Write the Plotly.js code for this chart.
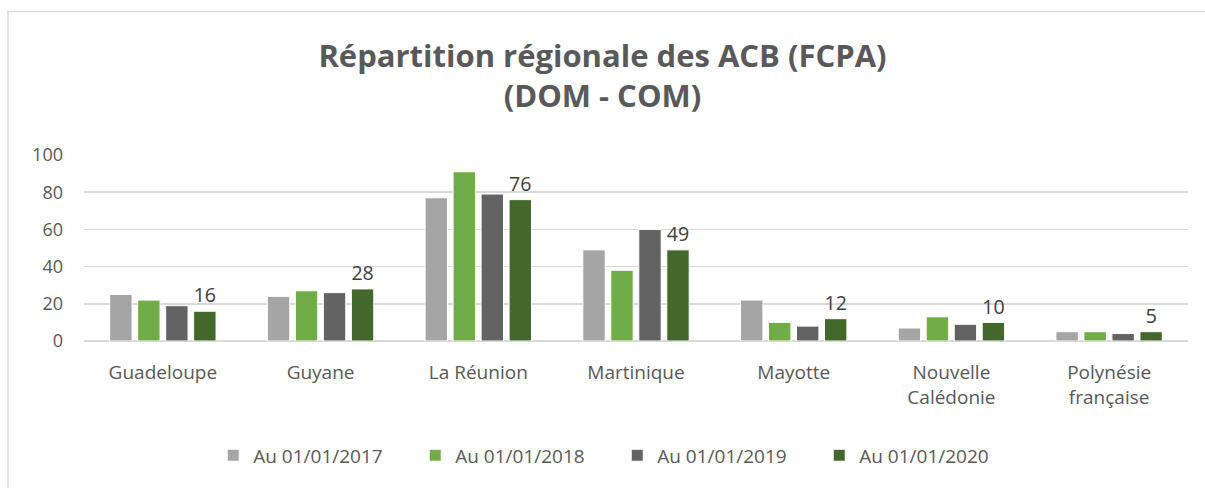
<!DOCTYPE html>
<html>
<head>
<meta charset="utf-8">
<script src="https://cdn.plot.ly/plotly-3.0.1.min.js"></script>
<style>html,body{margin:0;padding:0;background:#fff;}#chart{width:1205px;height:488px;}</style>
</head>
<body>
<div id="chart"></div>
<script>
const categories = ["Guadeloupe", "Guyane", "La Réunion", "Martinique", "Mayotte", "Nouvelle<br>Calédonie", "Polynésie<br>française"];
const seriesNames = ["Au 01/01/2017", "Au 01/01/2018", "Au 01/01/2019", "Au 01/01/2020"];
const v2017 = [25, 24, 77, 49, 22, 7, 5];
const v2018 = [22, 27, 91, 38, 10, 13, 5];
const v2019 = [19, 26, 79, 60, 8, 9, 4];
const v2020 = [16, 28, 76, 49, 12, 10, 5];
const colors = ["#A5A5A5", "#70AD47", "#636363", "#43682B"];
const values = [v2017, v2018, v2019, v2020];

const font = "Open Sans, sans-serif";
const traces = values.map((vals, i) => {
  const t = {
    type: "bar",
    name: seriesNames[i],
    x: categories,
    y: vals,
    marker: {color: colors[i], line: {color: "#ffffff", width: 1}},
    hoverinfo: "skip"
  };
  if (i === 3) {
    t.text = vals.map(String);
    t.textposition = "outside";
    t.textfont = {family: font, size: 20, color: "#404040"};
    t.cliponaxis = false;
  }
  return t;
});

const layout = {
  width: 1205, height: 488,
  paper_bgcolor: "#ffffff", plot_bgcolor: "#ffffff",
  margin: {l: 84, r: 17, t: 155, b: 146.5},
  title: {
    text: "<b>Répartition régionale des ACB (FCPA)<br>(DOM - COM)</b>",
    font: {family: font, size: 31, color: "#595959"},
    x: 0.5, xanchor: "center", y: 1 - 67/488, yanchor: "top"
  },
  barmode: "group",
  bargap: 0.29,
  bargroupgap: 0.2,
  xaxis: {
    tickfont: {family: font, size: 19, color: "#595959"},
    showgrid: false, zeroline: false, showline: false, ticks: "",
    ticklabelstandoff: 18
  },
  yaxis: {
    range: [0, 100], dtick: 20,
    tickfont: {family: font, size: 18, color: "#595959"},
    gridcolor: "#D9D9D9", gridwidth: 1.5,
    zeroline: true, zerolinecolor: "#D9D9D9", zerolinewidth: 1.5,
    showline: false, ticks: "",
    ticklabelstandoff: 20
  },
  legend: {
    orientation: "h", x: 0.483, xanchor: "center", y: -0.615, yanchor: "middle",
    font: {family: font, size: 19, color: "#595959"},
    itemwidth: 30, traceorder: "normal",
    entrywidth: 157, entrywidthmode: "pixels"
  },
  shapes: [{
    type: "rect", xref: "paper", yref: "paper",
    x0: -76/1104, x1: 1.05, y0: -1.0, y1: (341.5-11)/186.5,
    line: {color: "#D9D9D9", width: 1.5}, fillcolor: "rgba(0,0,0,0)", layer: "below"
  }]
};

Plotly.newPlot("chart", traces, layout, {displayModeBar: false, staticPlot: true});
</script>
</body>
</html>
